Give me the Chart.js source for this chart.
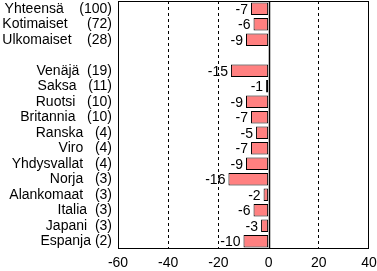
<!DOCTYPE html>
<html><head><meta charset="utf-8">
<script src="https://cdn.jsdelivr.net/npm/chart.js@4"></script>
<style>html,body{margin:0;padding:0;background:#fff}#w{width:377px;height:271px}</style>
</head><body><div id="w"><canvas id="c"></canvas></div>
<script>
const categories = ["Yhteensä    (100)", "Kotimaiset     (72)", "Ulkomaiset    (28)", "",
  "Venäjä  (19)", "Saksa   (11)", "Ruotsi   (10)", "Britannia   (10)", "Ranska   (4)", "Viro   (4)",
  "Yhdysvallat   (4)", "Norja   (3)", "Alankomaat   (3)", "Italia  (3)", "Japani  (3)", "Espanja (2)"];
const values = [-7, -6, -9, null, -15, -1, -9, -7, -5, -7, -9, -16, -2, -6, -3, -10];
const xTicks = [-60, -40, -20, 0, 20, 40];

const FONT = {family: "'Liberation Sans', Arial, sans-serif", size: 14};

const framePlugin = {
  id: 'frame',
  afterDatasetsDraw(chart) {
    const ctx = chart.ctx, a = chart.chartArea, xs = chart.scales.x;
    ctx.save();
    ctx.font = "14px 'Liberation Sans', Arial, sans-serif";
    ctx.fillStyle = '#000';
    ctx.textAlign = 'right';
    ctx.textBaseline = 'middle';
    chart.getDatasetMeta(0).data.forEach((el, i) => {
      const v = values[i];
      if (v === null || v === undefined) return;
      ctx.fillText(String(v), el.x - 3, el.y + 1);
    });
    ctx.strokeStyle = '#000';
    ctx.lineWidth = 1;
    ctx.setLineDash([]);
    ctx.strokeRect(Math.round(a.left) + 0.5, Math.round(a.top) + 0.5,
      Math.round(a.right - a.left) - 1, Math.round(a.bottom - a.top) - 1);
    const x0 = Math.round(xs.getPixelForValue(0)) + 0.5;
    ctx.beginPath(); ctx.moveTo(x0, a.top); ctx.lineTo(x0, a.bottom); ctx.lineWidth = 1.5; ctx.stroke();
    ctx.restore();
  }
};

new Chart(document.getElementById('c'), {
  type: 'bar',
  data: {
    labels: categories,
    datasets: [{
      data: values,
      backgroundColor: '#FF8080',
      borderColor: '#000',
      borderWidth: 1,
      borderSkipped: false,
      barPercentage: 0.8,
      categoryPercentage: 1.0
    }]
  },
  options: {
    indexAxis: 'y',
    responsive: true,
    maintainAspectRatio: false,
    animation: false,
    devicePixelRatio: 1,
    layout: {padding: {top: 1, right: 8, left: 0, bottom: 0}},
    plugins: {legend: {display: false}, tooltip: {enabled: false}},
    scales: {
      x: {
        type: 'linear', min: -60, max: 40,
        afterBuildTicks(s) { s.ticks = xTicks.map(v => ({value: v})); },
        afterFit(s) { s.height = 22; s.paddingLeft = 0; s.paddingRight = 0; },
        ticks: {color: '#000', font: FONT, padding: 6, maxRotation: 0,
          callback: v => String(v)},
        grid: {
          color: ctx => (ctx.tick && (ctx.tick.value === -40 || ctx.tick.value === -20 || ctx.tick.value === 20)) ? '#000' : 'rgba(0,0,0,0)',
          lineWidth: 1, drawTicks: false
        },
        border: {display: false, dash: [3, 3]}
      },
      y: {
        afterFit(s) { s.width = 118; s.paddingTop = 0; s.paddingBottom = 0; },
        ticks: {color: '#000', font: FONT, padding: 6, autoSkip: false},
        grid: {display: false, drawTicks: false},
        border: {display: false}
      }
    }
  },
  plugins: [framePlugin]
});
</script></body></html>
